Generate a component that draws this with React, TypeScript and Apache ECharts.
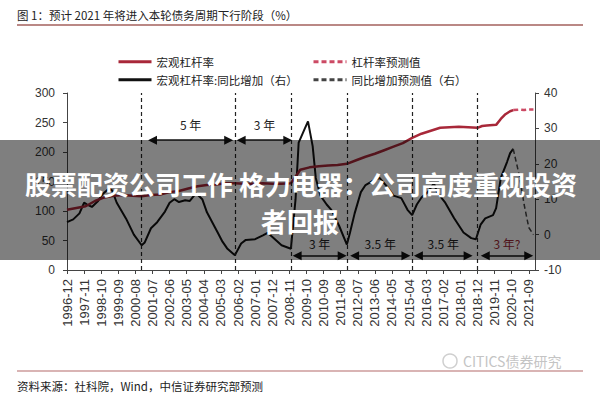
import React, { useEffect, useRef } from "react";
import * as echarts from "echarts";

// ---------- data ----------
const START_YEAR = 1996;
const START_MONTH = 12;
const MONTH_COUNT = 302; // 1996-12 .. 2022-01

// 宏观杠杆率 (left axis, %)
const leverageDates = [
  "1996-12", "1997-06", "1997-12", "1998-06", "1998-12", "1999-06", "1999-12", "2000-06",
  "2000-12", "2001-06", "2001-12", "2002-06", "2002-12", "2003-06", "2003-12", "2004-06",
  "2004-12", "2005-06", "2005-12", "2006-06", "2006-12", "2007-06", "2007-12", "2008-06",
  "2008-12", "2009-03", "2009-06", "2009-12", "2010-06", "2010-12", "2011-06", "2011-12",
  "2012-06", "2012-12", "2013-06", "2013-12", "2014-06", "2014-12", "2015-06", "2015-12",
  "2016-06", "2016-12", "2017-06", "2017-12", "2018-06", "2018-12", "2019-03", "2019-06",
  "2019-12", "2020-03", "2020-06", "2020-09", "2020-11",
];
const leverageValues = [
  102, 105, 108, 117, 123, 126, 127, 126,
  125, 127, 128, 132, 134, 138, 142, 144,
  145, 147, 147, 146, 146, 147, 146, 146,
  147, 158, 170, 174, 176, 177, 178, 180,
  186, 192, 197, 203, 209, 215, 224, 231,
  236, 241, 242, 243, 242, 241, 244, 245,
  246, 256, 264, 269, 271,
];

// 杠杆率预测值 (left axis, %)
const leverageForecastDates = ["2020-11", "2021-03", "2021-06", "2021-09", "2021-12"];
const leverageForecastValues = [271, 272, 271, 272, 272];

// 宏观杠杆率:同比增加 (right axis, pct points)
const yoyDates = [
  "1996-12", "1997-04", "1997-08", "1997-11", "1998-01", "1998-04", "1998-08", "1998-11",
  "1999-03", "1999-05", "1999-08", "2000-02", "2000-07", "2000-12", "2001-02", "2001-06",
  "2001-10", "2002-03", "2002-06", "2002-09", "2002-12", "2003-04", "2003-07", "2003-11",
  "2004-03", "2004-06", "2004-10", "2005-01", "2005-04", "2005-07", "2005-12", "2006-04",
  "2006-07", "2007-01", "2007-06", "2007-09", "2008-01", "2008-06", "2008-12", "2009-03",
  "2009-05", "2009-09", "2009-11", "2010-02", "2010-04", "2010-07", "2010-11", "2011-02",
  "2011-07", "2011-12", "2012-02", "2012-05", "2012-09", "2012-12", "2013-06", "2013-09",
  "2014-02", "2014-06", "2014-11", "2015-03", "2015-06", "2015-09", "2015-12", "2016-04",
  "2016-08", "2016-10", "2017-03", "2017-09", "2018-03", "2018-08", "2018-11", "2019-02",
  "2019-05", "2019-10", "2019-12", "2020-03", "2020-07", "2020-09", "2020-11",
];
const yoyValues = [
  3.5, 4.3, 6, 9, 8.5, 7.8, 9.5, 11.5,
  13, 12.5, 9, 4.5, 0, -3, -2.2, 1.8,
  3.5, 6.5, 9, 10, 9.2, 9.7, 9.5, 11.7,
  10, 6.3, 3, 0.5, -2, -3.9, -5.8, -2.5,
  -1.5, -1.3, -0.2, 0.5, -1, -3, -4, 10,
  26, 30, 32, 25, 16, 11, 8.5, 7,
  2.5, -2.8, 0.5, 6, 12, 14, 15.5, 16,
  13.5, 11, 10.3, 7, 5.5, 8.5, 10.5, 12,
  14.5, 12, 9.2, 4.6, 0.6, -1, -1.3, 2.8,
  4.6, 5.5, 7.5, 16, 20.5, 23, 24.2,
];

// 同比增加预测值 (right axis)
const yoyForecastDates = ["2020-11", "2021-03", "2021-06", "2021-09", "2021-12"];
const yoyForecastValues = [24.2, 16.5, 8.5, 2, 0];

// cycle boundaries (vertical dashed lines)
const cycleBoundaries = ["2000-12", "2005-12", "2008-12", "2011-12", "2015-06", "2018-12"];

// duration arrows
const arrowStarts = ["2001-07", "2006-04", "2009-04", "2012-05", "2015-10", "2019-05"];
const arrowEnds = ["2005-08", "2008-10", "2011-09", "2015-02", "2018-06", "2021-09"];
const arrowLevels = [220, 220, 24, 24, 24, 24];
const arrowLabels = ["5 年", "3 年", "3 年", "3.5 年", "3.5 年", "3 年?"];

const leftTicks = { min: 0, max: 300, interval: 50 };
const rightTicks = { min: -10, max: 40, interval: 10 };

// ---------- helpers ----------
function monthLabel(i: number): string {
  const total = START_YEAR * 12 + (START_MONTH - 1) + i;
  const y = Math.floor(total / 12);
  const m = (total % 12) + 1;
  return `${y}-${m < 10 ? "0" + m : m}`;
}
function mi(s: string): number {
  const [y, m] = s.split("-").map(Number);
  return (y - START_YEAR) * 12 + (m - START_MONTH);
}
const months: string[] = [];
for (let i = 0; i < MONTH_COUNT; i++) months.push(monthLabel(i));

const pairs = (dates: string[], vals: number[]) => dates.map((d, k) => [mi(d), vals[k]]);

const CJK = "'Noto Sans CJK SC', 'Liberation Sans', sans-serif";
const NUM = "'Liberation Sans', Arial, sans-serif";

export default function App() {
  const ref = useRef<HTMLDivElement>(null);
  useEffect(() => {
    if (!ref.current) return;
    const chart = echarts.init(ref.current, undefined, { renderer: "svg" });

    const arrowData = arrowStarts.map((s, k) => {
      const top = arrowLevels[k] > 100;
      const maroon = k === arrowStarts.length - 1;
      return [
        {
          coord: [mi(s), arrowLevels[k]],
          label: {
            show: true,
            position: "insideMiddleTop",
            distance: top ? 10 : 6,
            formatter: arrowLabels[k],
            color: maroon ? "#9e2a36" : "#222",
            fontSize: 12,
            fontFamily: CJK,
          },
        },
        { coord: [mi(arrowEnds[k]), arrowLevels[k]] },
      ];
    });

    const option: any = {
      animation: false,
      backgroundColor: "#ffffff",
      grid: { left: 67, right: 65, top: 93, bottom: 130, containLabel: false },
      legend: [
        { data: ["宏观杠杆率"], left: 117, top: 56 },
        { data: ["杠杆率预测值"], left: 312, top: 56 },
        { data: ["宏观杠杆率:同比增加（右）"], left: 117, top: 74 },
        { data: ["同比增加预测值（右）"], left: 312, top: 74 },
      ].map((l) => ({
        ...l,
        padding: 0,
        itemWidth: 33,
        itemHeight: 12,
        selectedMode: false,
        itemStyle: { opacity: 0 },
        lineStyle: { width: 3 },
        textStyle: { fontSize: 11.5, color: "#222", fontFamily: CJK },
      })),
      xAxis: {
        type: "category",
        data: months,
        boundaryGap: false,
        axisLine: { lineStyle: { color: "#444", width: 1 } },
        axisTick: { show: true, interval: 10, length: 4, lineStyle: { color: "#444" } },
        axisLabel: {
          interval: 10,
          rotate: 90,
          fontSize: 13,
          color: "#333",
          margin: 9,
          fontFamily: NUM,
        },
        splitLine: { show: false },
      },
      yAxis: [
        {
          type: "value",
          position: "left",
          ...leftTicks,
          axisLine: { show: true, lineStyle: { color: "#444" } },
          axisTick: { show: true, length: 4, lineStyle: { color: "#444" } },
          axisLabel: { fontSize: 12, color: "#333", margin: 12, fontFamily: NUM },
          splitLine: { show: false },
        },
        {
          type: "value",
          position: "right",
          ...rightTicks,
          axisLine: { show: true, lineStyle: { color: "#444" } },
          axisTick: { show: true, length: 4, lineStyle: { color: "#444" } },
          axisLabel: { fontSize: 12, color: "#333", margin: 9, fontFamily: NUM },
          splitLine: { show: false },
        },
      ],
      series: [
        {
          name: "宏观杠杆率",
          type: "line",
          yAxisIndex: 0,
          data: pairs(leverageDates, leverageValues),
          symbol: "none",
          itemStyle: { color: "#a82839" },
          lineStyle: { color: "#a82839", width: 2.5 },
          z: 3,
          markLine: {
            silent: true,
            symbol: ["triangle", "triangle"],
            symbolSize: [9, 9],
            lineStyle: { color: "#111", width: 1.5, type: "solid" },
            data: arrowData,
          },
        },
        {
          name: "杠杆率预测值",
          type: "line",
          yAxisIndex: 0,
          data: pairs(leverageForecastDates, leverageForecastValues),
          symbol: "none",
          itemStyle: { color: "#cc4a64" },
          lineStyle: { color: "#cc4a64", width: 2.5, type: [5, 3] },
          z: 3,
        },
        {
          name: "宏观杠杆率:同比增加（右）",
          type: "line",
          yAxisIndex: 1,
          data: pairs(yoyDates, yoyValues),
          symbol: "none",
          itemStyle: { color: "#111" },
          lineStyle: { color: "#111", width: 2 },
          z: 2,
          markLine: {
            silent: true,
            symbol: ["none", "none"],
            label: { show: false },
            lineStyle: { color: "#222", width: 1.2, type: [4, 3] },
            data: cycleBoundaries.map((d) => ({ xAxis: mi(d) })),
          },
        },
        {
          name: "同比增加预测值（右）",
          type: "line",
          yAxisIndex: 1,
          data: pairs(yoyForecastDates, yoyForecastValues),
          symbol: "none",
          itemStyle: { color: "#444" },
          lineStyle: { color: "#444", width: 1.5, type: [5, 3] },
          z: 2,
        },
      ],
      graphic: [
        {
          type: "text",
          x: 17,
          y: 15,
          style: {
            text: "图 1：预计 2021 年将进入本轮债务周期下行阶段（%）",
            fill: "#222",
            fontSize: 11.5,
            fontFamily: CJK,
            verticalAlign: "middle",
            textVerticalAlign: "middle",
          },
        },
        {
          type: "line",
          shape: { x1: 17, y1: 25, x2: 583, y2: 25 },
          style: { stroke: "#a3605c", lineWidth: 1.5 },
        },
        {
          type: "line",
          shape: { x1: 17, y1: 371, x2: 583, y2: 371 },
          style: { stroke: "#b46a6a", lineWidth: 1.2 },
        },
        {
          type: "text",
          x: 17,
          y: 386,
          style: {
            text: "资料来源：社科院，Wind，中信证券研究部预测",
            fill: "#222",
            fontSize: 11.5,
            fontFamily: CJK,
            verticalAlign: "middle",
            textVerticalAlign: "middle",
          },
        },
        {
          type: "circle",
          shape: { cx: 450, cy: 361, r: 7 },
          style: { fill: "none", stroke: "#cfcfcf", lineWidth: 1.5 },
        },
        {
          type: "text",
          x: 463,
          y: 361,
          style: {
            text: "CITICS债券研究",
            fill: "#c4c4c4",
            fontSize: 14,
            fontFamily: CJK,
            verticalAlign: "middle",
            textVerticalAlign: "middle",
          },
        },
        {
          type: "rect",
          z: 100,
          shape: { x: 0, y: 140, width: 600, height: 120 },
          style: { fill: "rgba(0,0,0,0.5)" },
        },
        {
          type: "text",
          z: 101,
          x: 301,
          y: 183,
          style: {
            text: "股票配资公司工作 格力电器：公司高度重视投资",
            fill: "#ffffff",
            fontSize: 26,
            fontWeight: "bold",
            fontFamily: CJK,
            align: "center",
            textAlign: "center",
            verticalAlign: "middle",
            textVerticalAlign: "middle",
          },
        },
        {
          type: "text",
          z: 101,
          x: 300,
          y: 220,
          style: {
            text: "者回报",
            fill: "#ffffff",
            fontSize: 26,
            fontWeight: "bold",
            fontFamily: CJK,
            align: "center",
            textAlign: "center",
            verticalAlign: "middle",
            textVerticalAlign: "middle",
          },
        },
      ],
    };

    chart.setOption(option);
    return () => chart.dispose();
  }, []);

  return (
    <div
      ref={ref}
      style={{ position: "fixed", left: 0, top: 0, width: 600, height: 400, background: "#fff" }}
    />
  );
}
